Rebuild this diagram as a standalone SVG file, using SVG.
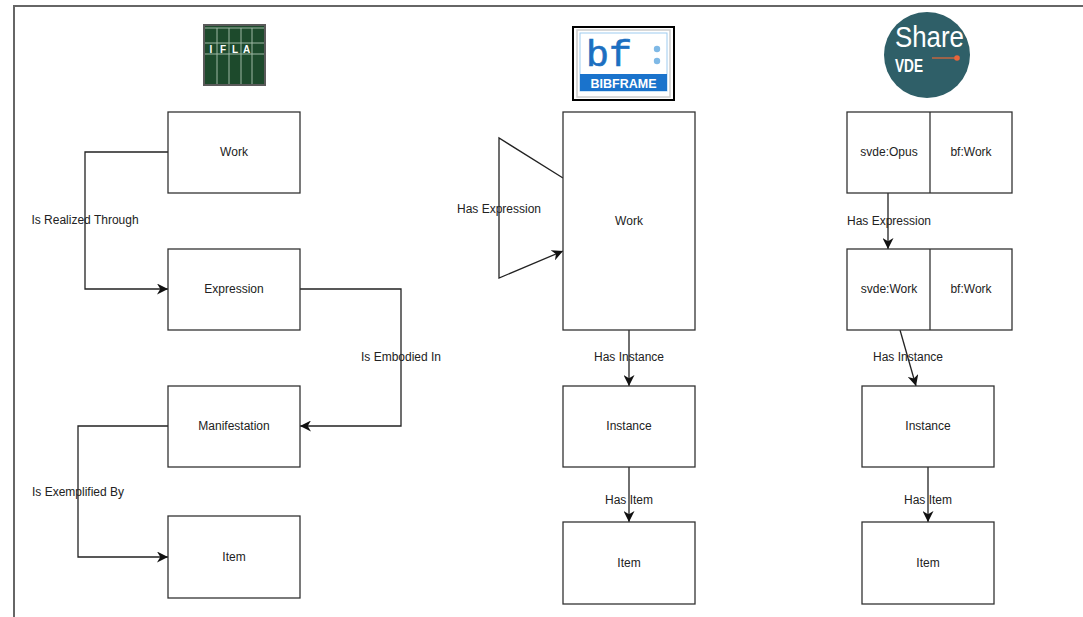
<svg xmlns="http://www.w3.org/2000/svg" width="1083" height="617" viewBox="0 0 1083 617">
<style>
.box{fill:#fff;stroke:#333;stroke-width:1.3}
.t{font-family:"Liberation Sans",Arial,sans-serif;font-size:12px;fill:#222;text-anchor:middle}
.c{fill:none;stroke:#222;stroke-width:1.3}
.lg{font-family:"Liberation Sans",Arial,sans-serif;font-size:10px;font-weight:bold;fill:#fff;text-anchor:middle}
</style>
<defs>
<marker id="ar" viewBox="0 0 10 10" refX="10" refY="5" markerWidth="11" markerHeight="11" markerUnits="userSpaceOnUse" orient="auto">
<path d="M0,0 L10,5 L0,10 L3,5 z" fill="#111"/>
</marker>
</defs>
<rect width="1083" height="617" fill="#fff"/>
<path d="M14,617 V6 H1083" fill="none" stroke="#666" stroke-width="2"/>

<g id="logo-ifla">
<rect x="203" y="24" width="63" height="62" fill="#5a5a5a"/>
<rect x="205" y="26" width="59" height="58" fill="#1d4a2c"/>
<path d="M205,28 H264 M205,43 H264 M205,54 H264 M217,28 V84 M229,28 V84 M241,28 V84 M252,28 V84" stroke="#9fb8a4" stroke-width="1"/>
<text class="lg" x="211" y="53">I</text>
<text class="lg" x="223" y="53">F</text>
<text class="lg" x="235" y="53">L</text>
<text class="lg" x="246.5" y="53">A</text>
</g>

<g id="logo-bibframe">
<rect x="573" y="27" width="101" height="73" fill="#fff" stroke="#000" stroke-width="2"/>
<rect x="577" y="30" width="93" height="67" fill="#fff" stroke="#ccc" stroke-width="1.5"/>
<rect x="580" y="33" width="87" height="58" fill="#fff" stroke="#9ecbef" stroke-width="1"/>
<text x="586" y="66" font-family="Liberation Mono,Courier New,monospace" font-size="36" fill="#1c6fc1" stroke="#1c6fc1" stroke-width="0.6" textLength="46" lengthAdjust="spacingAndGlyphs">bf</text>
<circle cx="657" cy="49" r="3.2" fill="#7fb9e6"/>
<circle cx="657" cy="61" r="3.2" fill="#7fb9e6"/>
<rect x="580" y="74" width="87" height="17" fill="#1a73cc"/>
<text x="623.5" y="88" font-family="Liberation Sans,Arial,sans-serif" font-size="12.5" font-weight="bold" fill="#fff" text-anchor="middle">BIBFRAME</text>
</g>

<g id="logo-sharevde">
<circle cx="927" cy="55" r="43" fill="#2f5f68"/>
<text x="895" y="47" font-family="Liberation Sans,Arial,sans-serif" font-size="30" fill="#fff" textLength="69" lengthAdjust="spacingAndGlyphs">Share</text>
<text x="895" y="72" font-family="Liberation Sans,Arial,sans-serif" font-size="19" font-weight="bold" fill="#fff" textLength="28" lengthAdjust="spacingAndGlyphs">VDE</text>
<line x1="932" y1="58" x2="956" y2="58" stroke="#d9663a" stroke-width="1.3"/>
<circle cx="957" cy="58" r="2.8" fill="#e8643a"/>
</g>

<g id="connectors">
<path class="c" d="M168,152 H85 V289 H168" marker-end="url(#ar)"/>
<path class="c" d="M300,289 H401 V426 H300" marker-end="url(#ar)"/>
<path class="c" d="M168,426 H78 V557 H168" marker-end="url(#ar)"/>
<path class="c" d="M563,178 L499,138 V278 L563,251" marker-end="url(#ar)"/>
<path class="c" d="M629,330 V386" marker-end="url(#ar)"/>
<path class="c" d="M629,467 V522" marker-end="url(#ar)"/>
<path class="c" d="M888,193 V249" marker-end="url(#ar)"/>
<path class="c" d="M900,330 L916,386" marker-end="url(#ar)"/>
<path class="c" d="M928,467 V522" marker-end="url(#ar)"/>
<text class="t" x="85" y="224">Is Realized Through</text>
<text class="t" x="401" y="361">Is Embodied In</text>
<text class="t" x="78" y="496">Is Exemplified By</text>
<text class="t" x="499" y="213">Has Expression</text>
<text class="t" x="629" y="361">Has Instance</text>
<text class="t" x="629" y="504">Has Item</text>
<text class="t" x="889" y="225">Has Expression</text>
<text class="t" x="908" y="361">Has Instance</text>
<text class="t" x="928" y="504">Has Item</text>
</g>

<g id="ifla-work"><rect class="box" x="168" y="112" width="132" height="81"/><text class="t" x="234" y="156">Work</text></g>
<g id="ifla-expression"><rect class="box" x="168" y="249" width="132" height="81"/><text class="t" x="234" y="293">Expression</text></g>
<g id="ifla-manifestation"><rect class="box" x="168" y="386" width="132" height="81"/><text class="t" x="234" y="430">Manifestation</text></g>
<g id="ifla-item"><rect class="box" x="168" y="516" width="132" height="82"/><text class="t" x="234" y="561">Item</text></g>

<g id="bf-work"><rect class="box" x="563" y="112" width="132" height="218"/><text class="t" x="629" y="225">Work</text></g>
<g id="bf-instance"><rect class="box" x="563" y="386" width="132" height="81"/><text class="t" x="629" y="430">Instance</text></g>
<g id="bf-item"><rect class="box" x="563" y="522" width="132" height="82"/><text class="t" x="629" y="567">Item</text></g>

<g id="svde-opus"><rect class="box" x="847" y="112" width="165" height="81"/><line x1="930" y1="112" x2="930" y2="193" stroke="#333" stroke-width="1.3"/><text class="t" x="889" y="156">svde:Opus</text><text class="t" x="971" y="156">bf:Work</text></g>
<g id="svde-work"><rect class="box" x="847" y="249" width="165" height="81"/><line x1="930" y1="249" x2="930" y2="330" stroke="#333" stroke-width="1.3"/><text class="t" x="889" y="293">svde:Work</text><text class="t" x="971" y="293">bf:Work</text></g>
<g id="svde-instance"><rect class="box" x="862" y="386" width="132" height="81"/><text class="t" x="928" y="430">Instance</text></g>
<g id="svde-item"><rect class="box" x="862" y="522" width="132" height="82"/><text class="t" x="928" y="567">Item</text></g>
</svg>
